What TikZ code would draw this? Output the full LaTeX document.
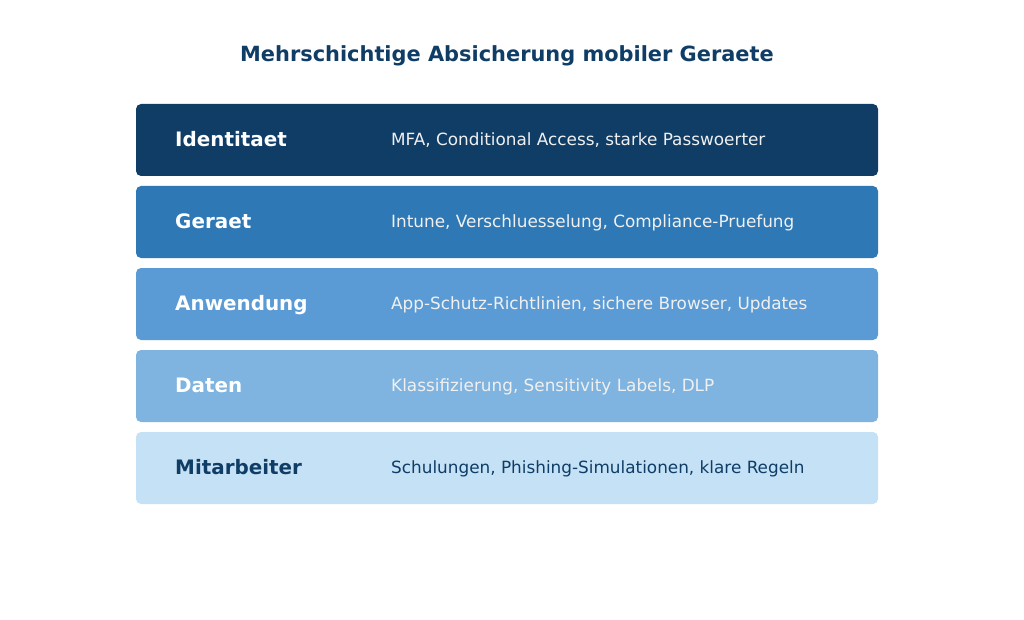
\documentclass[tikz,border=0pt]{standalone}
\usepackage{fontspec}
\setmainfont{DejaVu Sans}
\definecolor{cnavy}{HTML}{0F3D66}
\definecolor{cblue}{HTML}{2E78B5}
\definecolor{cmid}{HTML}{5B9BD5}
\definecolor{clight}{HTML}{7FB3E0}
\definecolor{cpale}{HTML}{C5E1F5}
\begin{document}
\begin{tikzpicture}[x=1pt,y=-1pt,
  layer/.style={draw=none, rounded corners=5pt, minimum width=742pt, minimum height=72pt, inner sep=0pt},
  lbl/.style={anchor=base west, inner sep=0pt, font=\fontsize{19.9}{22}\selectfont\bfseries},
  desc/.style={anchor=base west, inner sep=0pt, font=\fontsize{16.85}{20}\selectfont},
  ttl/.style={anchor=base, inner sep=0pt, font=\fontsize{20.9}{25}\selectfont\bfseries, text=cnavy}]
\useasboundingbox (0,0) rectangle (1024,620);
\node[ttl] (title) at (507,62) {Mehrschichtige Absicherung mobiler Geraete};
\node[layer, fill=cnavy] (b1) at (507,140) {};
\node[layer, fill=cblue] (b2) at (507,222) {};
\node[layer, fill=cmid] (b3) at (507,304) {};
\node[layer, fill=clight] (b4) at (507,386) {};
\node[layer, fill=cpale] (b5) at (507,468) {};
\node[lbl, text=white] (l1) at (175,146.8) {Identitaet};
\node[lbl, text=white] (l2) at (175,228.8) {Geraet};
\node[lbl, text=white] (l3) at (175,310.8) {Anwendung};
\node[lbl, text=white] (l4) at (175,392.8) {Daten};
\node[lbl, text=cnavy] (l5) at (175,474.8) {Mitarbeiter};
\node[desc, text=white!94!black] (d1) at (391,145.5) {MFA, Conditional Access, starke Passwoerter};
\node[desc, text=white!94!black] (d2) at (391,227.5) {Intune, Verschluesselung, Compliance-Pruefung};
\node[desc, text=white!94!black] (d3) at (391,309.5) {App-Schutz-Richtlinien, sichere Browser, Updates};
\node[desc, text=white!94!black] (d4) at (391,391.5) {Klassifizierung, Sensitivity Labels, DLP};
\node[desc, text=cnavy] (d5) at (391,473.5) {Schulungen, Phishing-Simulationen, klare Regeln};
\end{tikzpicture}
\end{document}
